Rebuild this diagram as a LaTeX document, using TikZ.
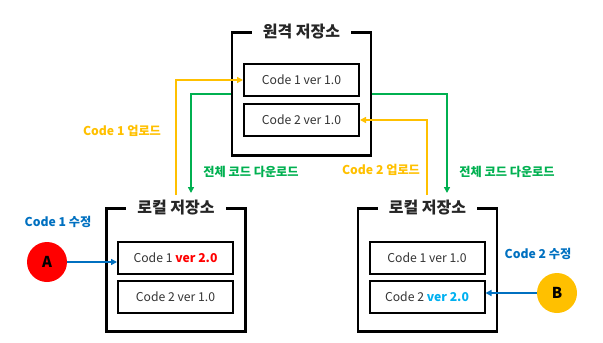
\documentclass[tikz,border=0pt]{standalone}
\usepackage{fontspec}
\setmainfont{Noto Sans CJK KR}
\usetikzlibrary{arrows.meta}
\definecolor{cyel}{HTML}{FFC000}
\definecolor{cgrn}{HTML}{00B050}
\definecolor{cblu}{HTML}{0070C0}
\definecolor{clbl}{HTML}{00B0F0}
\definecolor{cred}{HTML}{FF0000}
\tikzset{
  frame/.style={draw=black, line width=2.6pt, minimum width=139pt, minimum height=123pt, inner sep=0pt},
  ftitle/.style={fill=white, inner xsep=11pt, inner ysep=1pt, font=\fontsize{16}{18}\selectfont\bfseries, text=black!85},
  codebox/.style={draw=black, line width=2pt, minimum width=115pt, minimum height=32pt, inner sep=0pt, font=\fontsize{12.2}{14}\selectfont, text=black!80},
  lab/.style={font=\fontsize{12.2}{14}\selectfont\bfseries},
  conn/.style={line width=1.6pt, -{Triangle[length=6pt,width=6pt]}},
  person/.style={circle, minimum size=40pt, inner sep=0pt, font=\fontsize{15}{17}\selectfont\bfseries, text=black}
}
\begin{document}
\begin{tikzpicture}[x=1pt,y=-1pt]
\useasboundingbox (0,0) rectangle (603,343);
% frames
\node[frame] (remote) at (301.5,94) {};
\node[frame] (left) at (176,270) {};
\node[frame] (right) at (427.5,270) {};
\node[ftitle] (rt) at (remote.north) {원격 저장소};
\node[ftitle] (lt) at (left.north) {로컬 저장소};
\node[ftitle] (rrt) at (right.north) {로컬 저장소};
% code boxes
\node[codebox] (rc1) at (301.5,80) {Code 1 ver 1.0};
\node[codebox] (rc2) at (301.5,120) {Code 2 ver 1.0};
\node[codebox] (lc1) at (175.5,257.5) {Code 1 \textcolor{cred}{\bfseries ver 2.0}};
\node[codebox] (lc2) at (175.5,297) {Code 2 ver 1.0};
\node[codebox] (pc1) at (427,257.5) {Code 1 ver 1.0};
\node[codebox] (pc2) at (427,297) {Code 2 \textcolor{clbl}{\bfseries ver 2.0}};
% persons
\node[person, fill=cred] (A) at (47,262) {A};
\node[person, fill=cyel] (B) at (557,293) {B};
% connector ends
\coordinate (y1) at (176,195);
\coordinate (g1) at (191,193);
\coordinate (g2) at (447,193);
\coordinate (y2) at (427,195);
% connectors
\draw[conn, cyel] (y1) |- (rc1.west);
\draw[conn, cgrn] (remote.west) -| (g1);
\draw[conn, cgrn] (remote.east) -| (g2);
\draw[conn, cyel] (y2) |- (rc2.east);
\draw[conn, cblu] (A) -- (A -| lc1.west);
\draw[conn, cblu] (B) -- (B -| pc2.east);
% labels
\node[lab, text=cyel] (l1) at (122,131) {Code 1 업로드};
\node[lab, text=cgrn] (l2) at (251,172) {전체 코드 다운로드};
\node[lab, text=cyel] (l3) at (381,170) {Code 2 업로드};
\node[lab, text=cgrn] (l4) at (507,172) {전체 코드 다운로드};
\node[lab, text=cblu] (l5) at (58,222) {Code 1 수정};
\node[lab, text=cblu] (l6) at (538,254) {Code 2 수정};
\end{tikzpicture}
\end{document}
